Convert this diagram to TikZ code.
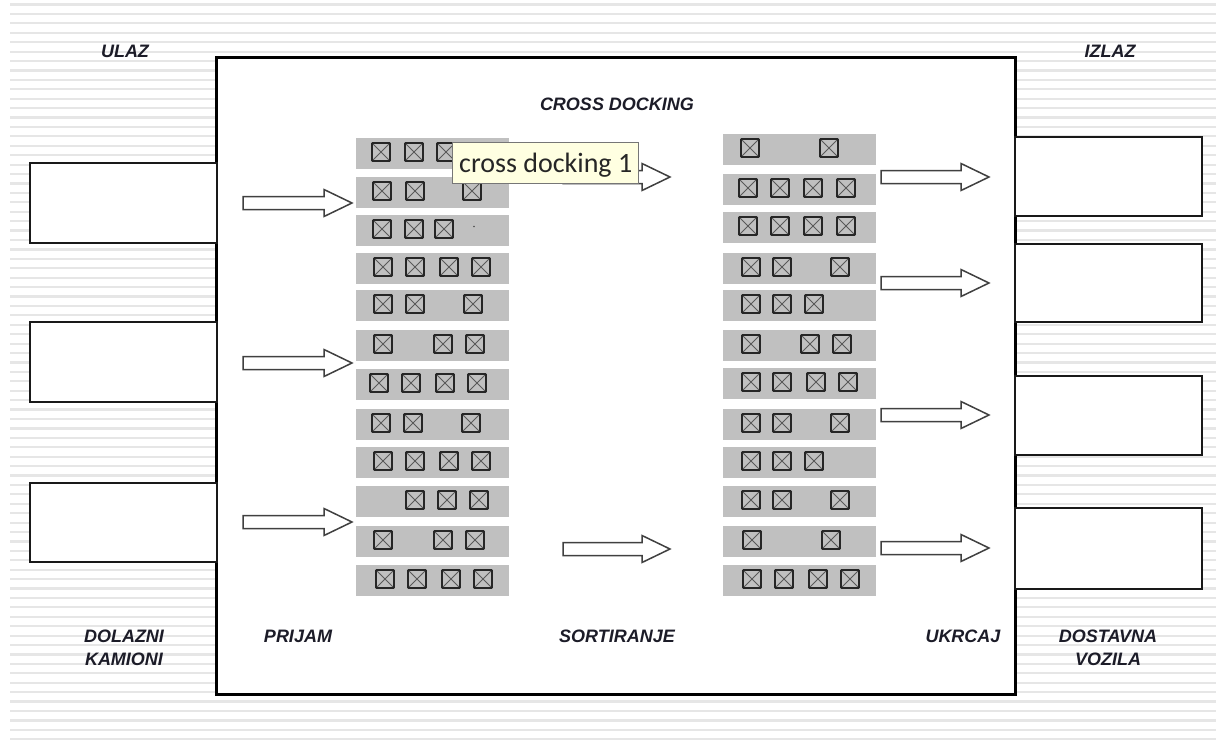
\documentclass[tikz,border=0pt]{standalone}
\usepackage{fontspec}
\setmainfont{Liberation Sans}
\newfontfamily\tipfont{Carlito}
\definecolor{stripecol}{HTML}{E6E6E6}
\definecolor{barcol}{HTML}{C0C0C0}
\definecolor{txtcol}{HTML}{1C1C28}
\definecolor{tipfill}{HTML}{FFFFE1}
\definecolor{tipline}{HTML}{767676}
\newcommand\xbox[2]{%
  \draw[xcross] (#1-9,#2-9) -- (#1+9,#2+9) (#1-9,#2+9) -- (#1+9,#2-9);
  \draw[xglyph] (#1-9,#2-9) rectangle (#1+9,#2+9);}
\newcommand\blkarrow[3]{%
  \draw[barrow] (#1,#2-6.5) -- (#3-28,#2-6.5) -- (#3-28,#2-13.5) -- (#3,#2)
    -- (#3-28,#2+13.5) -- (#3-28,#2+6.5) -- (#1,#2+6.5) -- cycle;}
\begin{document}
\begin{tikzpicture}[x=1pt,y=-1pt,
  stripe/.style={draw=stripecol,line width=2.2pt},
  mainbox/.style={draw=black,fill=white,line width=3pt},
  truck/.style={draw=black!90,fill=white,line width=2pt},
  bar/.style={fill=barcol},
  xglyph/.style={draw=black!85,line width=1.9pt,rounded corners=0.8pt},
  xcross/.style={draw=black!65,line width=0.9pt},
  barrow/.style={draw=black!75,fill=white,line width=1.5pt,line join=miter},
  lbl/.style={font=\fontsize{18}{23}\selectfont\bfseries\itshape,text=txtcol,inner sep=0pt,anchor=base},
  tipbox/.style={fill=tipfill,draw=tipline,line width=1pt}]
\useasboundingbox (0,0) rectangle (1216,744);
\fill[white] (0,0) rectangle (1216,744);
% background stripes
\foreach \k in {0,...,78} \draw[stripe] (10,{4.5+9.42*\k}) -- (1216,{4.5+9.42*\k});
% main box
\draw[mainbox] (216,57) rectangle (1015,694);
% incoming trucks
\draw[truck] (30,163) rectangle (217,243);
\draw[truck] (30,322) rectangle (217,402);
\draw[truck] (30,483) rectangle (217,562);
% outgoing vehicles
\draw[truck] (1015,137) rectangle (1202,216);
\draw[truck] (1015,244) rectangle (1202,322);
\draw[truck] (1015,376) rectangle (1202,455);
\draw[truck] (1015,508) rectangle (1202,589);
% left column (prijam)
\foreach \yt/\lst in {138/{381,414,446},177/{382,415,472},215/{382,414,444},
  253/{383,415,449,481},290/{383,415,473},330/{383,443,475},369/{379,411,445,477},
  409/{381,413,471},447/{383,415,449,481},486/{415,447,479},526/{383,443,475},
  565/{385,417,451,483}}{
  \fill[bar] (356,\yt) rectangle (509,\yt+31);
  \foreach \x in \lst {\xbox{\x}{\yt+14}}
}
\fill[black!70] (474,226.5) circle (0.9);
% right column (ukrcaj)
\foreach \yt/\lst in {134/{750,829},174/{748,780,813,846},212/{748,780,813,846},
  253/{751,782,840},290/{751,782,814},330/{751,810,842},368/{751,782,816,848},
  409/{751,782,840},447/{751,782,814},486/{751,782,840},526/{752,831},
  565/{752,784,818,850}}{
  \fill[bar] (723,\yt) rectangle (876,\yt+31);
  \foreach \x in \lst {\xbox{\x}{\yt+14}}
}
% arrows
\blkarrow{243}{203}{352}
\blkarrow{243}{363}{352}
\blkarrow{243}{522}{352}
\blkarrow{563}{177}{670}
\blkarrow{563}{549}{670}
\blkarrow{881}{177}{989}
\blkarrow{881}{283}{989}
\blkarrow{881}{415}{989}
\blkarrow{881}{548}{989}
% tooltip
\draw[tipbox] (452,142) rectangle (638,183);
\node[anchor=base west,inner sep=0pt,font=\tipfont\fontsize{28}{32}\selectfont,text=black!85] (tt) at (459,172.5) {cross docking 1};
% labels
\node[lbl] (ulaz) at (125,57) {ULAZ};
\node[lbl] (izlaz) at (1110,57) {IZLAZ};
\node[lbl] (cd) at (617,110) {CROSS DOCKING};
\node[lbl,align=center] (dol) at (124,665) {DOLAZNI\\KAMIONI};
\node[lbl] (prijam) at (298,642) {PRIJAM};
\node[lbl] (sort) at (617,642) {SORTIRANJE};
\node[lbl] (ukrcaj) at (963,642) {UKRCAJ};
\node[lbl,align=center] (dost) at (1108,665) {DOSTAVNA\\VOZILA};
\end{tikzpicture}
\end{document}
